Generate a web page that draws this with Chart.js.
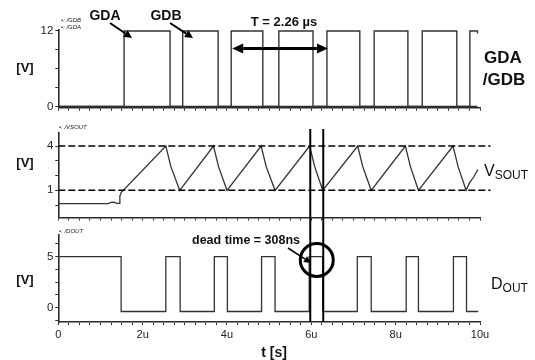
<!DOCTYPE html>
<html><head><meta charset="utf-8">
<script src="https://cdn.jsdelivr.net/npm/chart.js@4"></script>
<style>
body{margin:0;background:#fff;}
#wrap{position:relative;width:535px;height:360px;overflow:hidden;font-family:"Liberation Sans",Arial,sans-serif;color:#111;}
canvas{position:absolute;left:0;top:0;}
.t{position:absolute;transform:translate(-50%,-50%);white-space:nowrap;line-height:1;}
.l{position:absolute;white-space:nowrap;line-height:1;}
.s{position:absolute;white-space:nowrap;line-height:1;font-size:6px;font-style:italic;transform:translateY(-50%);color:#222;}
</style></head><body>
<div id="wrap">
<canvas id="c1" width="535" height="360"></canvas>
<canvas id="c2" width="535" height="360"></canvas>
<canvas id="c3" width="535" height="360"></canvas>

<div class="t" style="left:105px;top:14.5px;font-weight:bold;font-size:14px">GDA</div>
<div class="t" style="left:166px;top:14.5px;font-weight:bold;font-size:14px">GDB</div>
<div class="t" style="left:284px;top:21px;font-weight:bold;font-size:13px">T = 2.26 µs</div>

<div class="t" style="left:25px;top:67px;font-weight:bold;font-size:13px">[V]</div>
<div class="t" style="left:25px;top:162px;font-weight:bold;font-size:13px">[V]</div>
<div class="t" style="left:25px;top:279px;font-weight:bold;font-size:13px">[V]</div>

<div class="t" style="left:503px;top:57px;font-weight:bold;font-size:17px">GDA</div>
<div class="t" style="left:504px;top:78.5px;font-weight:bold;font-size:17px">/GDB</div>

<div class="l" style="left:484px;top:163px;font-size:16px">V<span style="font-size:12px;vertical-align:-3px">SOUT</span></div>
<div class="l" style="left:491px;top:276px;font-size:16px">D<span style="font-size:12px;vertical-align:-3px">OUT</span></div>

<div class="l" style="left:192px;top:234px;font-weight:bold;font-size:12.5px">dead time = 308ns</div>
<div class="t" style="left:274px;top:352px;font-weight:bold;font-size:14px">t [s]</div>

<div class="s" style="left:61px;top:20px">•: /GDB</div>
<div class="s" style="left:61px;top:26.5px">•: /GDA</div>
<div class="s" style="left:59px;top:127px">•: /VSOUT</div>
<div class="s" style="left:59px;top:231px">•: /DOUT</div>
</div>
<script>
// ---- data (time in µs) ----
const xTicks = [0, 2, 4, 6, 8, 10];
const xTickLabels = ['0', '2u', '4u', '6u', '8u', '10u'];
const xMinorTicks = [0,0.25,0.5,0.75,1,1.25,1.5,1.75,2,2.25,2.5,2.75,3,3.25,3.5,3.75,4,4.25,4.5,4.75,5,5.25,5.5,5.75,6,6.25,6.5,6.75,7,7.25,7.5,7.75,8,8.25,8.5,8.75,9,9.25,9.5,9.75,10];

// GDA / GDB gate drives (stepped: time of transition, new level)
const gdaT = [0, 1.56, 2.65, 4.10, 4.85, 6.37, 7.15, 8.63, 9.45, 9.94];
const gdaV = [0, 12, 0, 12, 0, 12, 0, 12, 0, 0];
const gdbT = [0, 2.95, 3.79, 5.23, 6.04, 7.49, 8.29, 9.76, 9.94];
const gdbV = [0, 12, 0, 12, 0, 12, 0, 12, 11.6];
const panel1Ticks = [0, 3, 6, 9, 12];
const panel1Labels = ['0', '', '', '', '12'];

// VSOUT sawtooth
const vsoutT = [0, 1.18, 1.25, 1.32, 1.38, 1.44, 1.46, 1.49, 2.55, 2.67, 2.88, 3.68, 3.80, 4.00, 4.81, 4.93, 5.14, 5.96, 6.08, 6.27, 7.10, 7.22, 7.42, 8.23, 8.35, 8.54, 9.36, 9.48, 9.67, 9.75, 9.85, 9.95];
const vsoutV = [0.1, 0.1, 0.18, 0.2, 0.12, 0.12, 0.6, 0.85, 4.0, 2.6, 1.0, 4.0, 2.6, 1.0, 4.0, 2.6, 1.0, 4.0, 2.6, 1.0, 4.0, 2.6, 1.0, 4.0, 2.6, 1.0, 4.0, 2.6, 1.0, 1.5, 1.9, 2.4];
const vsoutLevels = [4, 1];
const panel2Ticks = [0, 1, 2, 3, 4];
const panel2Labels = ['', '1', '', '', '4'];

// DOUT (stepped)
const doutT = [0, 1.49, 2.55, 2.89, 3.70, 4.01, 4.82, 5.14, 5.95, 6.27, 7.09, 7.42, 8.25, 8.54, 9.37, 9.68, 9.96];
const doutV = [5, -0.37, 5, -0.37, 5, -0.37, 5, -0.37, 5, -0.37, 5, -0.37, 5, -0.37, 5, -0.37, -0.37];
const panel3Ticks = [-1.25, 0, 1.25, 2.5, 3.75, 5, 6.25];
const panel3Labels = ['', '0', '', '', '', '5', ''];

// dead-time cursors
const cursorT = [5.975, 6.283];

// ---- helpers ----
const pts = (T, V) => T.map((t, i) => ({x: t, y: V[i]}));
const AX = '#2a2a2a';
const TRACE = '#333';

function xScale(showLabels, h) {
  return {
    type: 'linear', min: 0, max: 10,
    border: {display: true, color: AX, width: 1.6},
    grid: {drawOnChartArea: false, drawTicks: true, tickLength: 3, color: AX, lineWidth: 1},
    afterBuildTicks: s => { s.ticks = xMinorTicks.map(v => ({value: v})); },
    afterFit: s => { s.height = h; },
    ticks: {
      display: showLabels, autoSkip: false, maxRotation: 0, padding: 3,
      color: '#222', font: {family: '"Liberation Sans", Arial, sans-serif', size: 11},
      callback: v => { const i = xTicks.indexOf(v); return i >= 0 ? xTickLabels[i] : ''; }
    }
  };
}
function yScale(min, max, ticks, labels) {
  return {
    type: 'linear', min, max,
    border: {display: true, color: AX, width: 1.6},
    grid: {drawOnChartArea: false, drawTicks: true, tickLength: 3, color: AX},
    afterBuildTicks: s => { s.ticks = ticks.map(v => ({value: v})); },
    afterFit: s => { s.width = 58.3; },
    ticks: {
      autoSkip: false, padding: 2, color: '#222',
      font: {family: '"Liberation Sans", Arial, sans-serif', size: 11.5},
      callback: v => { const i = ticks.indexOf(v); return i >= 0 ? labels[i] : ''; }
    }
  };
}
const baseOpts = (pad, x, y, extra) => Object.assign({
  responsive: false, animation: false,
  layout: {padding: pad},
  plugins: {legend: {display: false}, tooltip: {enabled: false}},
  elements: {point: {radius: 0}, line: {tension: 0}},
  scales: {x, y}
}, extra || {});

function arrow(ctx, x1, y1, x2, y2, lw, hl, hw) {
  const a = Math.atan2(y2 - y1, x2 - x1);
  const bx = x2 - hl * Math.cos(a), by = y2 - hl * Math.sin(a);
  ctx.lineWidth = lw;
  ctx.beginPath(); ctx.moveTo(x1, y1); ctx.lineTo(bx, by); ctx.stroke();
  ctx.beginPath();
  ctx.moveTo(x2, y2);
  ctx.lineTo(bx + hw * Math.sin(a), by - hw * Math.cos(a));
  ctx.lineTo(bx - hw * Math.sin(a), by + hw * Math.cos(a));
  ctx.closePath(); ctx.fill();
}

// ---- panel 1 ----
const chart1 = new Chart(document.getElementById('c1'), {
  type: 'line',
  data: {datasets: [
    {data: pts(gdaT, gdaV), stepped: true, borderColor: TRACE, borderWidth: 1.4},
    {data: pts(gdbT, gdbV), stepped: true, borderColor: TRACE, borderWidth: 1.4}
  ]},
  options: baseOpts({left: 0, right: 55, top: 30, bottom: 242.3},
    xScale(false, 10), yScale(-0.2, 12.15, panel1Ticks, panel1Labels))
});

// ---- panel 2 ----
const chart2 = new Chart(document.getElementById('c2'), {
  type: 'line',
  data: {datasets: [
    {data: [{x: 0, y: vsoutLevels[0]}, {x: 10.25, y: vsoutLevels[0]}], borderColor: '#000', borderWidth: 1.5, borderDash: [7, 3], clip: false},
    {data: [{x: 0, y: vsoutLevels[1]}, {x: 10.25, y: vsoutLevels[1]}], borderColor: '#000', borderWidth: 1.5, borderDash: [7, 3], clip: false},
    {data: pts(vsoutT, vsoutV), borderColor: TRACE, borderWidth: 1.3}
  ]},
  options: baseOpts({left: 0, right: 55, top: 133, bottom: 132.5},
    xScale(false, 10), yScale(-0.84, 4.88, panel2Ticks, panel2Labels))
});

// ---- panel 3 ----
const overlay = {
  id: 'overlay',
  afterDraw(chart) {
    const ctx = chart.ctx, xs = chart.scales.x;
    ctx.save();
    ctx.strokeStyle = '#000'; ctx.fillStyle = '#000';
    // dead-time cursors
    ctx.lineWidth = 2;
    cursorT.forEach(t => {
      const x = xs.getPixelForValue(t);
      ctx.beginPath(); ctx.moveTo(x, 129); ctx.lineTo(x, chart.chartArea.bottom); ctx.stroke();
    });
    // GDA / GDB pointers
    arrow(ctx, 110, 23, 132, 38, 2, 8, 4);
    arrow(ctx, 170, 23, 193, 38, 2, 8, 4);
    // period double arrow
    const xa = xs.getPixelForValue(gdaT[3]) + 1, xb = xs.getPixelForValue(gdaT[5]) + 1;
    const ym = 48.5;
    arrow(ctx, (xa + xb) / 2, ym, xa, ym, 3, 11, 5);
    arrow(ctx, (xa + xb) / 2, ym, xb, ym, 3, 11, 5);
    // dead-time circle and pointer
    ctx.lineWidth = 3;
    ctx.beginPath();
    ctx.arc((xs.getPixelForValue(cursorT[0]) + xs.getPixelForValue(cursorT[1])) / 2, 260, 16.5, 0, Math.PI * 2);
    ctx.stroke();
    arrow(ctx, 288, 248, 311, 263, 1.5, 7, 3.5);
    ctx.restore();
  }
};
const chart3 = new Chart(document.getElementById('c3'), {
  type: 'line',
  data: {datasets: [
    {data: pts(doutT, doutV), stepped: true, borderColor: TRACE, borderWidth: 1.3}
  ]},
  options: baseOpts({left: 0, right: 55, top: 235, bottom: 0},
    xScale(true, 38), yScale(-1.4, 7.13, panel3Ticks, panel3Labels)),
  plugins: [overlay]
});
</script>
</body></html>
